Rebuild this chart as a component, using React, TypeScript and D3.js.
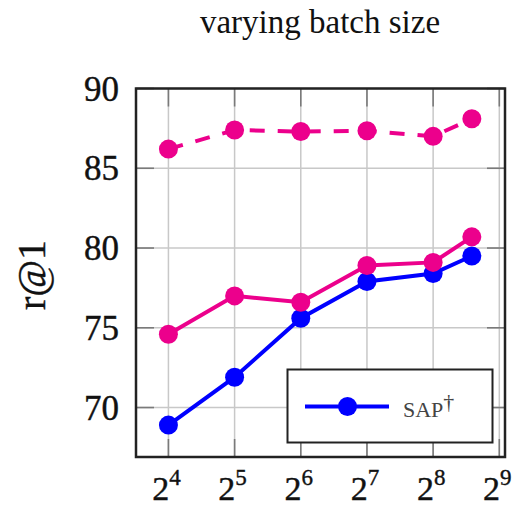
import React from "react";
import * as d3 from "d3";

// Batch sizes on the x axis (log2 scale)
const batchSizes = [16, 32, 64, 128, 256, 384];
const xTickExponents = [4, 5, 6, 7, 8, 9];
const yTicks = [70, 75, 80, 85, 90];

// r@1 for each configuration
const sapDashed = [86.2, 87.4, 87.3, 87.35, 87.0, 88.1];
const sapPink = [74.6, 77.0, 76.6, 78.9, 79.1, 80.7];
const sapBlue = [68.9, 71.9, 75.6, 77.9, 78.4, 79.5];

const W = 518;
const H = 508;
const left = 136;
const right = 505;
const top = 88.5;
const bottom = 457;

const PINK = "#EC008C";
const BLUE = "#0000FF";

export default function App() {
  const x = d3
    .scaleLog()
    .base(2)
    .domain([Math.pow(2, 3.51), Math.pow(2, 9.086)])
    .range([left, right]);
  const y = d3.scaleLinear().domain([66.9, 90]).range([bottom, top]);

  const line = d3
    .line<[number, number]>()
    .x((d) => x(d[0]))
    .y((d) => y(d[1]));

  const series = [
    { values: sapBlue, color: BLUE, dash: undefined as string | undefined },
    { values: sapPink, color: PINK, dash: undefined },
    { values: sapDashed, color: PINK, dash: "15 13" },
  ];

  const tickLen = 18;
  const serif = "'Liberation Serif', 'DejaVu Serif', serif";

  return (
    <svg
      width={W}
      height={H}
      style={{ position: "absolute", left: 0, top: 0 }}
      fontFamily={serif}
    >
      <rect width={W} height={H} fill="#fff" />
      <text x={320} y={33} textAnchor="middle" fontSize={33} fill="#111">
        varying batch size
      </text>

      {/* grid */}
      {xTickExponents.map((e) => (
        <line
          key={"gx" + e}
          x1={x(Math.pow(2, e))}
          x2={x(Math.pow(2, e))}
          y1={top}
          y2={bottom}
          stroke="#c8c8c8"
          strokeWidth={1.5}
        />
      ))}
      {yTicks.map((t) => (
        <line
          key={"gy" + t}
          x1={left}
          x2={right}
          y1={y(t)}
          y2={y(t)}
          stroke="#c8c8c8"
          strokeWidth={1.5}
        />
      ))}

      {/* inward tick marks */}
      {xTickExponents.map((e) => {
        const px = x(Math.pow(2, e));
        return (
          <g key={"tx" + e} stroke="#7a7a7a" strokeWidth={1.6}>
            <line x1={px} x2={px} y1={bottom} y2={bottom - tickLen} />
            <line x1={px} x2={px} y1={top} y2={top + tickLen} />
          </g>
        );
      })}
      {yTicks.map((t) => (
        <g key={"ty" + t} stroke="#7a7a7a" strokeWidth={1.6}>
          <line x1={left} x2={left + tickLen} y1={y(t)} y2={y(t)} />
          <line x1={right} x2={right - tickLen} y1={y(t)} y2={y(t)} />
        </g>
      ))}

      {/* series */}
      {series.map((s, i) => {
        const pts = batchSizes.map((b, j) => [b, s.values[j]] as [number, number]);
        return (
          <g key={"s" + i}>
            <path
              d={line(pts) || ""}
              fill="none"
              stroke={s.color}
              strokeWidth={4}
              strokeDasharray={s.dash}
            />
            {pts.map((p, j) => (
              <circle key={j} cx={x(p[0])} cy={y(p[1])} r={9.5} fill={s.color} />
            ))}
          </g>
        );
      })}

      {/* frame */}
      <rect
        x={left}
        y={top}
        width={right - left}
        height={bottom - top}
        fill="none"
        stroke="#222"
        strokeWidth={2.5}
      />

      {/* y tick labels */}
      {yTicks.map((t) => (
        <text
          key={"yl" + t}
          x={119}
          y={y(t) + 12}
          textAnchor="end"
          fontSize={35}
          fill="#111"
          stroke="#111"
          strokeWidth={0.4}
        >
          {t}
        </text>
      ))}

      {/* x tick labels */}
      {xTickExponents.map((e) => (
        <text
          key={"xl" + e}
          x={x(Math.pow(2, e)) - 2}
          y={500}
          textAnchor="middle"
          fontSize={34}
          fill="#111"
          stroke="#111"
          strokeWidth={0.4}
        >
          2
          <tspan fontSize={23} dy={-15}>
            {e}
          </tspan>
        </text>
      ))}

      {/* y axis label */}
      <text
        transform={`translate(45, 275) rotate(-90)`}
        textAnchor="middle"
        fontSize={40}
        fill="#111"
        stroke="#111"
        strokeWidth={0.4}
      >
        r@1
      </text>

      {/* legend */}
      <rect
        x={287.5}
        y={369.5}
        width={205}
        height={73}
        fill="#fff"
        stroke="#222"
        strokeWidth={2}
      />
      <line x1={305} x2={389} y1={406.5} y2={406.5} stroke={BLUE} strokeWidth={4} />
      <circle cx={347.5} cy={406.5} r={9.5} fill={BLUE} />
      <text x={403} y={417} fontSize={22} fill="#444">
        SAP
        <tspan fontSize={22} dy={-8}>
          †
        </tspan>
      </text>
    </svg>
  );
}
